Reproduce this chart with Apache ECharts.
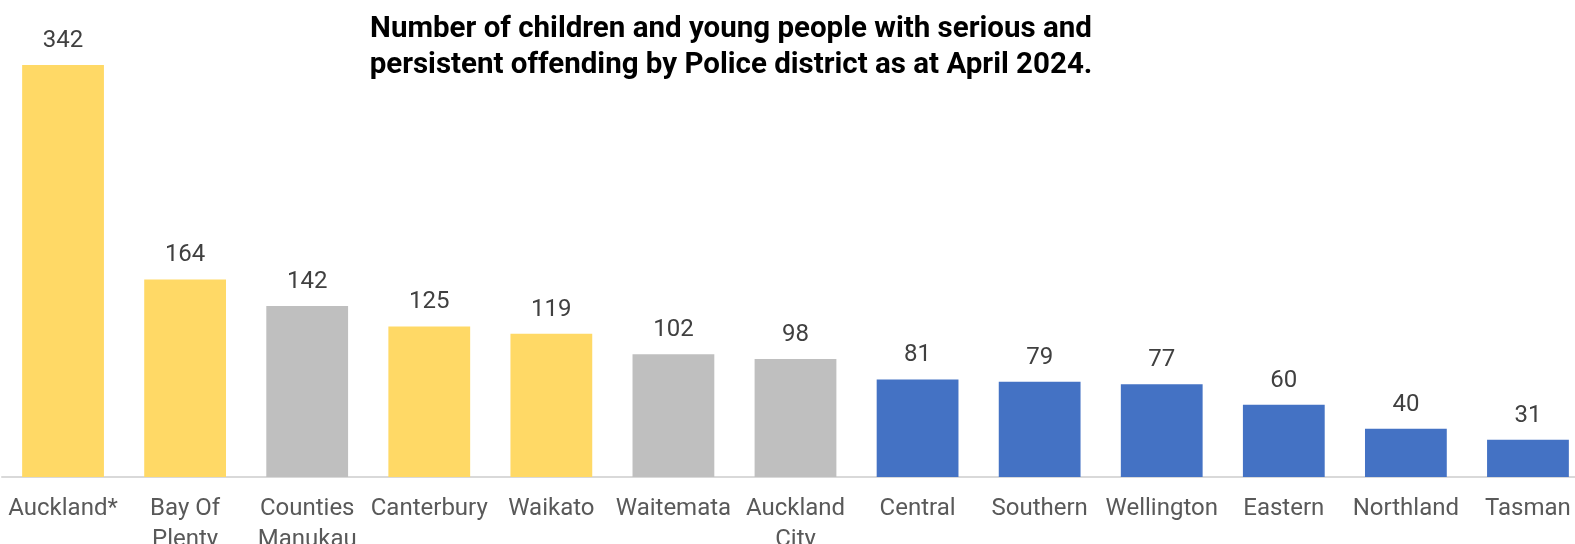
<!DOCTYPE html>
<html>
<head>
<meta charset="utf-8">
<script src="https://cdn.jsdelivr.net/npm/echarts@6/dist/echarts.min.js"></script>
<style>
html,body{margin:0;padding:0;background:#fff;}
#chart{width:1575px;height:544px;}
</style>
</head>
<body>
<div id="chart"></div>
<script>
const titleText = 'Number of children and young people with serious and\npersistent offending by Police district as at April 2024.';
const categories = ['Auckland*', 'Bay Of\nPlenty', 'Counties\nManukau', 'Canterbury', 'Waikato', 'Waitemata', 'Auckland\nCity', 'Central', 'Southern', 'Wellington', 'Eastern', 'Northland', 'Tasman'];
const values = [342, 164, 142, 125, 119, 102, 98, 81, 79, 77, 60, 40, 31];
const groups = ['yellow', 'yellow', 'grey', 'yellow', 'yellow', 'grey', 'grey', 'blue', 'blue', 'blue', 'blue', 'blue', 'blue'];
const groupColors = { yellow: '#FFD966', grey: '#BFBFBF', blue: '#4472C4' };

const chart = echarts.init(document.getElementById('chart'), null, { renderer: 'canvas' });
chart.setOption({
  animation: false,
  backgroundColor: '#ffffff',
  title: {
    text: titleText,
    left: 726,
    textAlign: 'center',
    top: 7,
    textStyle: { fontFamily: 'Roboto', fontWeight: 'bold', fontSize: 29.5, lineHeight: 36, color: '#000000' }
  },
  grid: { left: 2, top: 55.4, width: 1587, height: 421.6, outerBoundsMode: 'none', containLabel: false },
  xAxis: {
    type: 'category',
    data: categories,
    axisLine: { show: true, lineStyle: { color: '#D9D9D9', width: 2 } },
    axisTick: { show: false },
    axisLabel: { interval: 0, margin: 16, fontFamily: 'Roboto', fontSize: 24, lineHeight: 31, color: '#595959' }
  },
  yAxis: {
    type: 'value', min: 0, max: 350,
    show: false,
    splitLine: { show: false }
  },
  series: [{
    type: 'bar',
    barCategoryGap: '33%',
    data: values.map((v, i) => ({ value: v, itemStyle: { color: groupColors[groups[i]] } })),
    label: { show: true, position: 'top', distance: 12, fontFamily: 'Roboto', fontSize: 24, color: '#404040' }
  }]
});
</script>
</body>
</html>
